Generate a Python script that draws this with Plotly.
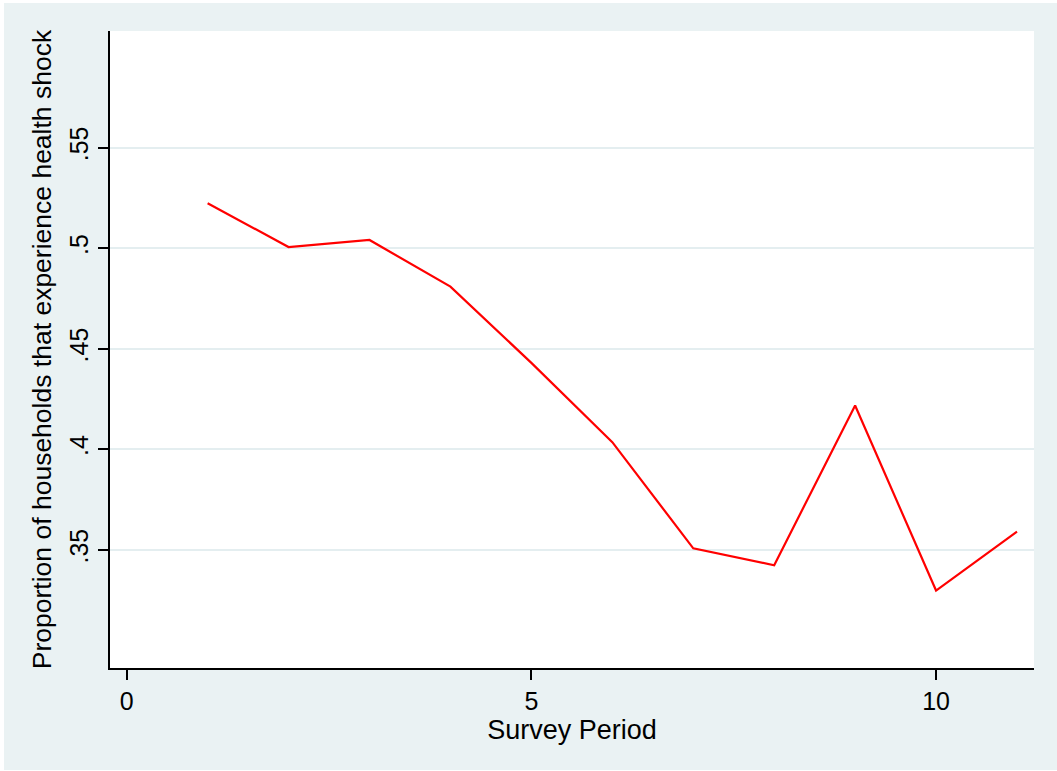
import plotly.graph_objects as go

# Share of households reporting a health shock, by survey round
survey_period = [1, 2, 3, 4, 5, 6, 7, 8, 9, 10, 11]
share_health_shock = [0.5224, 0.5006, 0.5041, 0.4809, 0.4430, 0.4036,
                      0.3508, 0.3424, 0.4218, 0.3298, 0.3591]

x_ticks = [0, 5, 10]
y_ticks = [0.35, 0.40, 0.45, 0.50, 0.55]
y_tick_labels = [".35", ".4", ".45", ".5", ".55"]

W, H = 1057, 771
ML, MR, MT, MB = 110, 23, 31, 103
PW, PH = W - ML - MR, H - MT - MB

BG = "#EAF2F3"
GRID = "#E4EEF0"
FONT = "Liberation Sans, Arial, sans-serif"


def px_to_paper_x(px):
    return (px - ML) / PW


def px_to_paper_y(py):
    return (H - MB - py) / PH


fig = go.Figure()
fig.add_trace(go.Scatter(
    x=survey_period, y=share_health_shock, mode="lines",
    line=dict(color="#FF0000", width=2.2), showlegend=False,
))

# Outer tinted frame and white plotting region
fig.add_shape(type="rect", xref="paper", yref="paper", layer="below",
              x0=px_to_paper_x(4), x1=px_to_paper_x(W + 2),
              y0=px_to_paper_y(770), y1=px_to_paper_y(3),
              fillcolor=BG, line_width=0)
fig.add_shape(type="rect", xref="paper", yref="paper", layer="below",
              x0=0, x1=1, y0=0, y1=1, fillcolor="white", line_width=0)

fig.update_layout(
    width=W, height=H,
    margin=dict(l=ML, r=MR, t=MT, b=MB, pad=0),
    paper_bgcolor="white",
    plot_bgcolor="rgba(0,0,0,0)",
    font=dict(family=FONT, size=25, color="black"),
    xaxis=dict(
        range=[-0.206, 11.21], tickvals=x_ticks,
        showgrid=False, zeroline=False,
        showline=True, linecolor="black", linewidth=1.5,
        ticks="outside", ticklen=10, tickwidth=1.5, tickcolor="black",
        tickfont=dict(size=25),
        title=dict(text="Survey Period", font=dict(size=27), standoff=0),
    ),
    yaxis=dict(
        range=[0.2913, 0.6080], tickvals=y_ticks, ticktext=y_tick_labels,
        tickangle=-90,
        showgrid=True, gridcolor=GRID, gridwidth=2, zeroline=False,
        showline=True, linecolor="black", linewidth=1.5,
        ticks="outside", ticklen=10, tickwidth=1.5, tickcolor="black",
        tickfont=dict(size=25),
        title=dict(text="Proportion of households that experience health shock",
                   font=dict(size=26.5), standoff=6),
    ),
)

fig.write_html("out.html")
